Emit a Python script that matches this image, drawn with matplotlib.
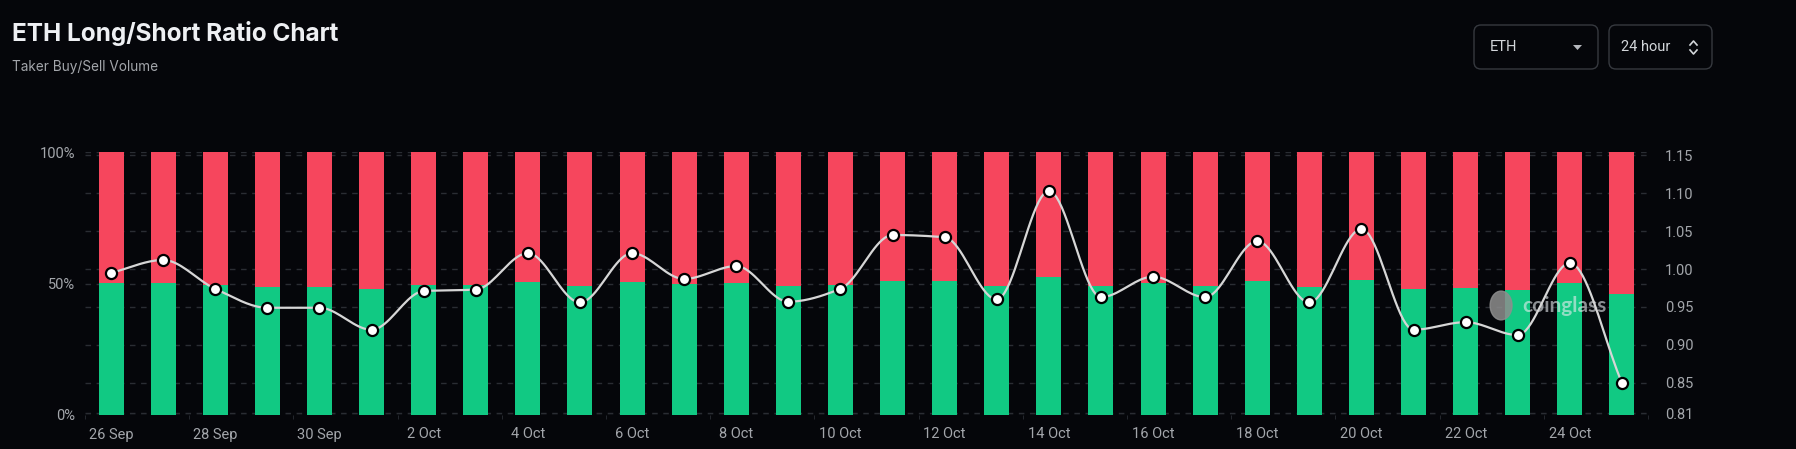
import numpy as np
import matplotlib
matplotlib.use('Agg')
import matplotlib.pyplot as plt
from matplotlib.patches import FancyBboxPatch, Polygon, Ellipse
from matplotlib.lines import Line2D
from matplotlib.transforms import IdentityTransform, blended_transform_factory

dates = ['26 Sep', '27 Sep', '28 Sep', '29 Sep', '30 Sep',
         '1 Oct', '2 Oct', '3 Oct', '4 Oct', '5 Oct',
         '6 Oct', '7 Oct', '8 Oct', '9 Oct', '10 Oct',
         '11 Oct', '12 Oct', '13 Oct', '14 Oct', '15 Oct',
         '16 Oct', '17 Oct', '18 Oct', '19 Oct', '20 Oct',
         '21 Oct', '22 Oct', '23 Oct', '24 Oct', '25 Oct']

# long (buy) share in %, short is the rest
long_pct = [50.1, 50.3, 49.4, 48.8, 48.8, 47.9, 49.3, 49.3, 50.7, 49.0,
            50.7, 49.8, 50.1, 49.0, 49.4, 51.1, 51.1, 49.1, 52.6, 49.2,
            50.1, 49.2, 50.9, 48.8, 51.5, 47.9, 48.4, 47.7, 50.3, 46.1]

ratio = [0.995, 1.012, 0.974, 0.949, 0.949, 0.920, 0.971, 0.973, 1.021, 0.956,
         1.021, 0.987, 1.004, 0.957, 0.974, 1.045, 1.042, 0.960, 1.103, 0.963,
         0.990, 0.963, 1.037, 0.956, 1.053, 0.920, 0.930, 0.913, 1.008, 0.850]

left_ticks = [0, 50, 100]
left_labels = ['0%', '50%', '100%']
right_ticks = [0.81, 0.85, 0.90, 0.95, 1.00, 1.05, 1.10, 1.15]

BG = '#05060a'
GREEN = '#11c983'
RED = '#f6465d'
GRID = '#2a2d33'
TXT = '#a3a6ab'


def monotone(x, y, n=20):
    # Fritsch-Carlson monotone cubic, just for drawing the smooth line
    x = np.asarray(x, float)
    y = np.asarray(y, float)
    h = np.diff(x)
    d = np.diff(y) / h
    m = np.zeros_like(y)
    m[0], m[-1] = d[0], d[-1]
    for k in range(1, len(y) - 1):
        if d[k - 1] * d[k] <= 0:
            m[k] = 0
        else:
            m[k] = 2 / (1 / d[k - 1] + 1 / d[k])
    xs, ys = [], []
    for k in range(len(h)):
        t = np.linspace(0, 1, n, endpoint=False)
        h00 = 2 * t**3 - 3 * t**2 + 1
        h10 = t**3 - 2 * t**2 + t
        h01 = -2 * t**3 + 3 * t**2
        h11 = t**3 - t**2
        xs.append(x[k] + t * h[k])
        ys.append(h00 * y[k] + h10 * h[k] * m[k] + h01 * y[k + 1] + h11 * h[k] * m[k + 1])
    xs.append([x[-1]])
    ys.append([y[-1]])
    return np.concatenate(xs), np.concatenate(ys)


plt.rcParams['font.family'] = ['Roboto', 'DejaVu Sans']

fig = plt.figure(figsize=(17.96, 4.49), dpi=100, facecolor=BG)
ax = fig.add_axes([85 / 1796, 34 / 449, 1563 / 1796, 263 / 449])
ax.set_facecolor(BG)
ax2 = ax.twinx()
ax2.set_ylim(0.8075, 1.1545)

x = np.arange(len(dates))
short_pct = [100 - v for v in long_pct]
ax.bar(x, long_pct, width=0.48, color=GREEN, zorder=2)
ax.bar(x, short_pct, bottom=long_pct, width=0.48, color=RED, zorder=2)

ax.set_xlim(-0.5, len(dates) - 0.5)
ax.set_ylim(0, 100)
ax.set_yticks(left_ticks)
ax.set_yticklabels(left_labels)
for v in left_ticks:
    ax.axhline(v, color=GRID, lw=1, ls=(0, (4, 4)), zorder=1)
# right axis grid drawn on the bar axes so the bars cover it
rtrans = blended_transform_factory(ax.transAxes, ax2.transData)
for v in right_ticks:
    ax.add_line(Line2D([0, 1], [v, v], transform=rtrans, color=GRID, lw=1,
                       ls=(0, (4, 4)), zorder=1))

ax.set_xticks(x[::2])
ax.set_xticklabels(dates[::2])
ax.set_xticks(np.arange(-0.5, len(dates), 2), minor=True)
ax.tick_params(axis='x', which='major', length=0, pad=9, labelsize=10.5, labelcolor=TXT)
ax.tick_params(axis='x', which='minor', length=3, color=GRID)
ax.tick_params(axis='y', length=0, pad=7, labelsize=10.5, labelcolor=TXT)
for s in ax.spines.values():
    s.set_visible(False)

ax2.set_yticks(right_ticks)
ax2.set_yticklabels([f'{v:.2f}' for v in right_ticks])
ax2.tick_params(axis='y', length=0, pad=12, labelsize=10.5, labelcolor=TXT)
for s in ax2.spines.values():
    s.set_visible(False)

sx, sy = monotone(x, ratio)
ax2.plot(sx, sy, color='#d6d6d6', lw=1.6, zorder=4)
ax2.plot(x, ratio, 'o', ms=8, mfc='white', mec='black', mew=1.6, zorder=5)

# watermark
ax2.add_patch(Ellipse((26.68, 0.952), 0.42, 0.038, color='#8e8e8e', alpha=0.85, zorder=3))
ax2.text(27.08, 0.951, 'coinglass', color='#e8ecef', alpha=0.6, fontsize=15,
         fontweight='bold', va='center', ha='left', zorder=3, family=['Lato', 'DejaVu Sans'])

# title block
fig.text(12 / 1796, 1 - 33 / 449, 'ETH Long/Short Ratio Chart', color='#eef0f3',
         fontsize=17.5, fontweight='bold', va='center', family=['Inter', 'DejaVu Sans'])
fig.text(12 / 1796, 1 - 67 / 449, 'Taker Buy/Sell Volume', color=TXT,
         fontsize=9.8, va='center', family=['Inter', 'DejaVu Sans'])

# selector boxes (pixel coords)
H = 449
for x0, w in [(1474, 124), (1609, 103)]:
    fig.add_artist(FancyBboxPatch((x0, H - 69), w, 44, boxstyle='round,pad=0,rounding_size=7',
                                  transform=IdentityTransform(), fc=BG, ec='#36393f', lw=1))
fig.text(1490 / 1796, 1 - 47 / H, 'ETH', color='#d3d6da', fontsize=10.5, va='center')
fig.add_artist(Polygon([[1573, H - 45], [1582, H - 45], [1577.5, H - 50]],
                       transform=IdentityTransform(), fc='#b5b8bd', ec='none'))
fig.text(1621 / 1796, 1 - 47 / H, '24 hour', color='#d3d6da', fontsize=10.5, va='center')
fig.add_artist(Line2D([1690, 1693.5, 1697], [H - 45, H - 41, H - 45],
                      transform=IdentityTransform(), color='#d3d6da', lw=1.2))
fig.add_artist(Line2D([1690, 1693.5, 1697], [H - 50, H - 54, H - 50],
                      transform=IdentityTransform(), color='#d3d6da', lw=1.2))

fig.savefig('out.png', dpi=100, facecolor=BG)
